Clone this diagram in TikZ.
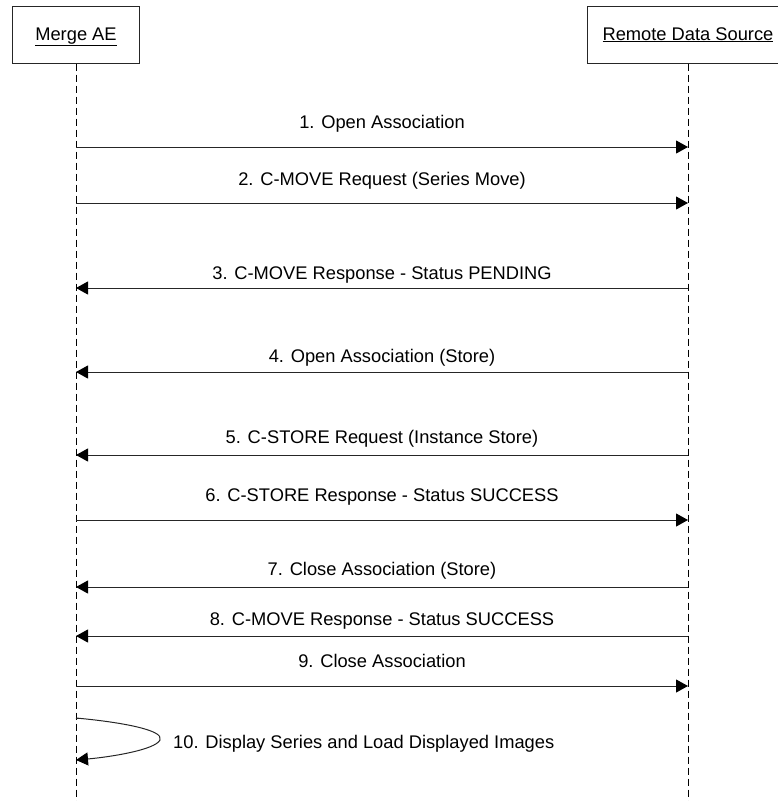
\documentclass[tikz,border=0pt]{standalone}
\usepackage{fontspec}
\setmainfont{Liberation Sans}
\usetikzlibrary{arrows.meta}
\begin{document}
\begin{tikzpicture}[x=1pt,y=-1pt,
  every node/.style={font=\fontsize{18.3}{21}\selectfont},
  actor/.style={draw=black!85,line width=1pt,fill=white,inner sep=0pt,text height=12pt,text depth=1pt},
  lifeline/.style={draw=black,line width=1pt,dash pattern=on 7pt off 4pt},
  msg/.style={draw=black!85,line width=1pt,-{Triangle[length=12pt,width=13pt,fill=black,color=black]}},
  lbl/.style={anchor=base,inner sep=0pt}]
\useasboundingbox (0,0) rectangle (777,801);
% actors
\node[actor,minimum width=127pt,minimum height=57pt] (ae) at (76,34.5) {\underline{Merge AE}};
\node[actor,minimum width=202pt,minimum height=57pt] (rds) at (688,34.5) {\underline{Remote Data Source}};
% lifeline ends
\coordinate (aeEnd) at (76,801);
\coordinate (rdsEnd) at (688,801);
\draw[lifeline] (ae.south) -- (aeEnd);
\draw[lifeline] (rds.south) -- (rdsEnd);
% message points
\foreach \i/\y in {1/147,2/203,3/288,4/372,5/455,6/520,7/587,8/636,9/686}{
  \coordinate (a\i) at (76,\y);
  \coordinate (r\i) at (688,\y);
}
\draw[msg] (a1) -- (r1);
\draw[msg] (a2) -- (r2);
\draw[msg] (r3) -- (a3);
\draw[msg] (r4) -- (a4);
\draw[msg] (r5) -- (a5);
\draw[msg] (a6) -- (r6);
\draw[msg] (r7) -- (a7);
\draw[msg] (r8) -- (a8);
\draw[msg] (a9) -- (r9);
% labels
\node[lbl] (l1) at (382,128) {1. Open Association};
\node[lbl] (l2) at (382,185) {2. C-MOVE Request (Series Move)};
\node[lbl] (l3) at (382,279) {3. C-MOVE Response - Status PENDING};
\node[lbl] (l4) at (382,362) {4. Open Association (Store)};
\node[lbl] (l5) at (382,443) {5. C-STORE Request (Instance Store)};
\node[lbl] (l6) at (382,501) {6. C-STORE Response - Status SUCCESS};
\node[lbl] (l7) at (382,575) {7. Close Association (Store)};
\node[lbl] (l8) at (382,625) {8. C-MOVE Response - Status SUCCESS};
\node[lbl] (l9) at (382,667) {9. Close Association};
% self message
\coordinate (s0) at (76,718);
\coordinate (s1) at (160,740);
\coordinate (s2) at (76,760);
\draw[draw=black!85,line width=1pt] (s0) -- ++(4,0);
\draw[msg] (s0) .. controls (120,722) and (165,730) .. (s1)
  .. controls (155,750) and (110,757) .. (s2);
\node[lbl,anchor=base west] (l10) at (173,748) {10. Display Series and Load Displayed Images};
\end{tikzpicture}
\end{document}
